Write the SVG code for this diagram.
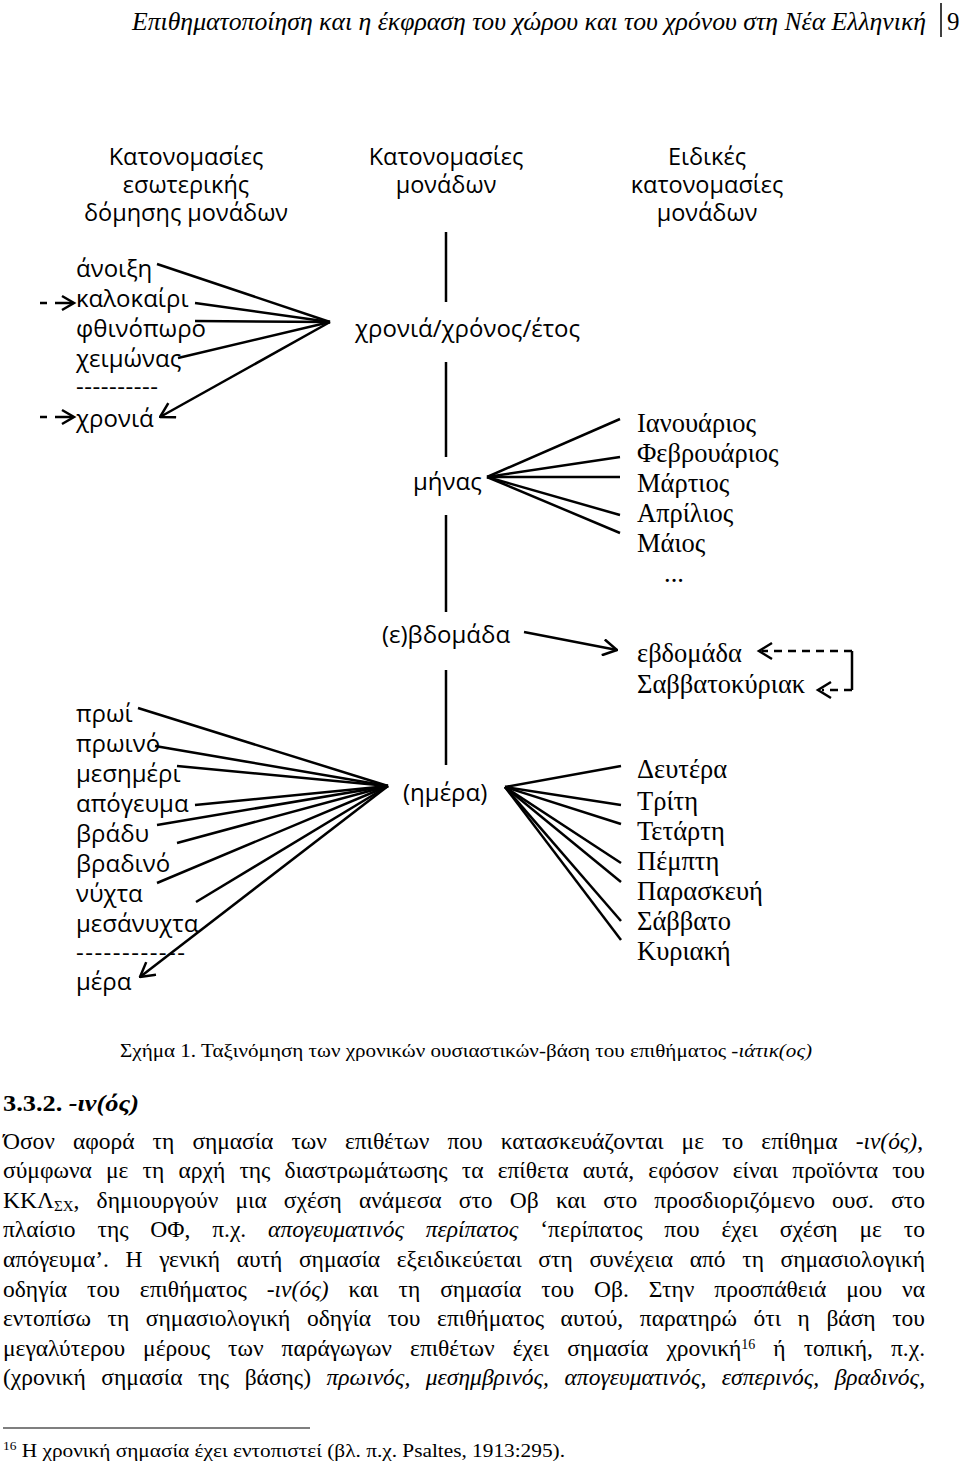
<svg xmlns="http://www.w3.org/2000/svg" width="960" height="1465" viewBox="0 0 960 1465">
<defs>
<style>
.s{font-family:"Open Sans","Noto Sans","DejaVu Sans",sans-serif;font-size:24px;fill:#000}
.h{font-family:"Open Sans","Noto Sans","DejaVu Sans",sans-serif;font-size:23.5px;fill:#000;text-anchor:middle}
.r{font-family:"Liberation Serif","DejaVu Serif",serif;font-size:26.5px;fill:#000}
.t{font-family:"Liberation Serif","Times New Roman",serif;fill:#000}
.p{font-family:"Liberation Serif","Times New Roman",serif;font-size:23.5px;fill:#000}
.i{font-style:italic}
.ln{stroke:#000;stroke-width:2.5;fill:none}
.ds{stroke-dasharray:8 6}
</style>
<marker id="ah" viewBox="0 0 16 18" refX="15" refY="9" markerWidth="16" markerHeight="18" markerUnits="userSpaceOnUse" orient="auto"><path d="M1,1 L15,9 L1,17" fill="none" stroke="#000" stroke-width="2.5"/></marker>
</defs>
<rect width="960" height="1465" fill="#fff"/>

<g id="header">
<text class="t i" x="132" y="30" font-size="25.5" textLength="794" lengthAdjust="spacingAndGlyphs">Επιθηματοποίηση και η έκφραση του χώρου και του χρόνου στη Νέα Ελληνική</text>
<line x1="941" y1="3" x2="941" y2="37" stroke="#000" stroke-width="1.5"/>
<text class="t" x="947" y="30" font-size="25">9</text>
</g>

<g id="head-left">
<text class="h" x="186" y="165">Κατονομασίες</text>
<text class="h" x="186" y="193">εσωτερικής</text>
<text class="h" x="186" y="221">δόμησης μονάδων</text>
</g>
<g id="head-mid">
<text class="h" x="446" y="165">Κατονομασίες</text>
<text class="h" x="446" y="193">μονάδων</text>
</g>
<g id="head-right">
<text class="h" x="707" y="165">Ειδικές</text>
<text class="h" x="707" y="193">κατονομασίες</text>
<text class="h" x="707" y="221">μονάδων</text>
</g>

<g id="seasons">
<text class="s" x="76" y="277">άνοιξη</text>
<text class="s" x="76" y="307">καλοκαίρι</text>
<text class="s" x="76" y="337">φθινόπωρο</text>
<text class="s" x="76" y="367">χειμώνας</text>
<text class="s" x="76" y="395" textLength="82" lengthAdjust="spacing">----------</text>
<text class="s" x="76" y="427">χρονιά</text>
</g>

<g id="year"><text class="s" x="355" y="337">χρονιά/χρόνος/έτος</text></g>
<g id="month"><text class="s" x="413" y="490">μήνας</text></g>
<g id="week"><text class="s" x="382" y="643">(ε)βδομάδα</text></g>
<g id="day"><text class="s" x="403" y="801">(ημέρα)</text></g>

<g id="months">
<text class="r" x="637" y="432">Ιανουάριος</text>
<text class="r" x="637" y="462">Φεβρουάριος</text>
<text class="r" x="637" y="492">Μάρτιος</text>
<text class="r" x="637" y="522">Απρίλιος</text>
<text class="r" x="637" y="552">Μάιος</text>
<text class="r" x="664" y="582" font-size="22">...</text>
</g>

<g id="weeks">
<text class="r" x="637" y="662">εβδομάδα</text>
<text class="r" x="637" y="693">Σαββατοκύριακ</text>
</g>

<g id="days">
<text class="r" x="637" y="778">Δευτέρα</text>
<text class="r" x="637" y="810">Τρίτη</text>
<text class="r" x="637" y="840">Τετάρτη</text>
<text class="r" x="637" y="870">Πέμπτη</text>
<text class="r" x="637" y="900">Παρασκευή</text>
<text class="r" x="637" y="930">Σάββατο</text>
<text class="r" x="637" y="960">Κυριακή</text>
</g>

<g id="dayparts">
<text class="s" x="76" y="722">πρωί</text>
<text class="s" x="76" y="752">πρωινό</text>
<text class="s" x="76" y="782">μεσημέρι</text>
<text class="s" x="76" y="812">απόγευμα</text>
<text class="s" x="76" y="842">βράδυ</text>
<text class="s" x="76" y="872">βραδινό</text>
<text class="s" x="76" y="902">νύχτα</text>
<text class="s" x="76" y="932">μεσάνυχτα</text>
<text class="s" x="76" y="961" textLength="109" lengthAdjust="spacing">------------</text>
<text class="s" x="76" y="990">μέρα</text>
</g>

<g id="connectors" class="ln">
<line x1="446" y1="232" x2="446" y2="302"/>
<line x1="446" y1="362" x2="446" y2="457"/>
<line x1="446" y1="515" x2="446" y2="612"/>
<line x1="446" y1="670" x2="446" y2="765"/>
<line x1="157" y1="264" x2="330" y2="322"/>
<line x1="195" y1="303" x2="330" y2="322"/>
<line x1="195" y1="321" x2="330" y2="322"/>
<line x1="178" y1="358" x2="330" y2="322"/>
<line x1="330" y1="322" x2="160" y2="417" marker-end="url(#ah)"/>
<path d="M40,303 H47 M55,303 H72"/>
<path d="M62,296 L74,303 L62,310"/>
<path d="M40,417 H47 M55,417 H72"/>
<path d="M62,410 L74,417 L62,424"/>
<line x1="487" y1="477" x2="620" y2="419"/>
<line x1="487" y1="477" x2="620" y2="457"/>
<line x1="487" y1="477" x2="620" y2="477"/>
<line x1="487" y1="477" x2="620" y2="515"/>
<line x1="487" y1="477" x2="620" y2="533"/>
<line x1="524" y1="632" x2="617" y2="650" marker-end="url(#ah)"/>
<path class="ds" d="M852,651 H762"/>
<path d="M772,643 L759,651 L772,659"/>
<path d="M852,651 V690"/>
<path class="ds" d="M852,690 H822"/>
<path d="M831,682 L818,690 L831,698"/>
<line x1="138" y1="708" x2="388" y2="786"/>
<line x1="155" y1="746" x2="388" y2="786"/>
<line x1="177" y1="766" x2="388" y2="786"/>
<line x1="195" y1="805" x2="388" y2="786"/>
<line x1="157" y1="825" x2="388" y2="786"/>
<line x1="177" y1="843" x2="388" y2="786"/>
<line x1="157" y1="883" x2="388" y2="786"/>
<line x1="196" y1="902" x2="388" y2="786"/>
<line x1="388" y1="786" x2="140" y2="977" marker-end="url(#ah)"/>
<line x1="505" y1="787" x2="621" y2="766"/>
<line x1="505" y1="787" x2="621" y2="805"/>
<line x1="505" y1="787" x2="621" y2="824"/>
<line x1="505" y1="787" x2="621" y2="863"/>
<line x1="505" y1="787" x2="621" y2="882"/>
<line x1="505" y1="787" x2="621" y2="921"/>
<line x1="505" y1="787" x2="621" y2="940"/>
</g>

<g id="caption">
<text class="t" x="120" y="1057" font-size="19" textLength="692" lengthAdjust="spacingAndGlyphs">Σχήμα 1. Ταξινόμηση των χρονικών ουσιαστικών-βάση του επιθήματος <tspan class="i">-ιάτικ(ος)</tspan></text>
</g>

<g id="body">
<text class="t" x="3" y="1111" font-size="24" font-weight="bold" textLength="136" lengthAdjust="spacingAndGlyphs">3.3.2. <tspan class="i">-ιν(ός)</tspan></text>
<text class="p" x="3" y="1149" word-spacing="12.3" textLength="920" lengthAdjust="spacing">Όσον αφορά τη σημασία των επιθέτων που κατασκευάζονται με το επίθημα <tspan class="i">-ιν(ός)</tspan>,</text>
<text class="p" x="3" y="1178" word-spacing="8.3" textLength="922" lengthAdjust="spacing">σύμφωνα με τη αρχή της διαστρωμάτωσης τα επίθετα αυτά, εφόσον είναι προϊόντα του</text>
<text class="p" x="3" y="1208" word-spacing="11.3" textLength="922" lengthAdjust="spacing">ΚΚΛ<tspan font-size="15" baseline-shift="-3">ΣΧ</tspan>, δημιουργούν μια σχέση ανάμεσα στο Οβ και στο προσδιοριζόμενο ουσ. στο</text>
<text class="p" x="3" y="1237" word-spacing="16" textLength="922" lengthAdjust="spacing">πλαίσιο της ΟΦ, π.χ. <tspan class="i">απογευματινός περίπατος</tspan> ‘περίπατος που έχει σχέση με το</text>
<text class="p" x="3" y="1267" word-spacing="10.8" textLength="922" lengthAdjust="spacing">απόγευμα’. Η γενική αυτή σημασία εξειδικεύεται στη συνέχεια από τη σημασιολογική</text>
<text class="p" x="3" y="1297" word-spacing="14" textLength="922" lengthAdjust="spacing">οδηγία του επιθήματος <tspan class="i">-ιν(ός)</tspan> και τη σημασία του Οβ. Στην προσπάθειά μου να</text>
<text class="p" x="3" y="1326" word-spacing="10.7" textLength="922" lengthAdjust="spacing">εντοπίσω τη σημασιολογική οδηγία του επιθήματος αυτού, παρατηρώ ότι η βάση του</text>
<text class="p" x="3" y="1356" word-spacing="12.2" textLength="922" lengthAdjust="spacing">μεγαλύτερου μέρους των παράγωγων επιθέτων έχει σημασία χρονική<tspan font-size="14" baseline-shift="super">16</tspan> ή τοπική, π.χ.</text>
<text class="p" x="3" y="1385" word-spacing="9.7" textLength="922" lengthAdjust="spacing">(χρονική σημασία της βάσης) <tspan class="i">πρωινός, μεσημβρινός, απογευματινός, εσπερινός, βραδινός,</tspan></text>
</g>

<g id="footnote">
<line x1="3" y1="1428" x2="310" y2="1428" stroke="#000" stroke-width="1.2"/>
<text class="t" x="3" y="1457" font-size="19" textLength="562" lengthAdjust="spacingAndGlyphs"><tspan font-size="12" baseline-shift="super">16</tspan> Η χρονική σημασία έχει εντοπιστεί (βλ. π.χ. Psaltes, 1913:295).</text>
</g>
</svg>
